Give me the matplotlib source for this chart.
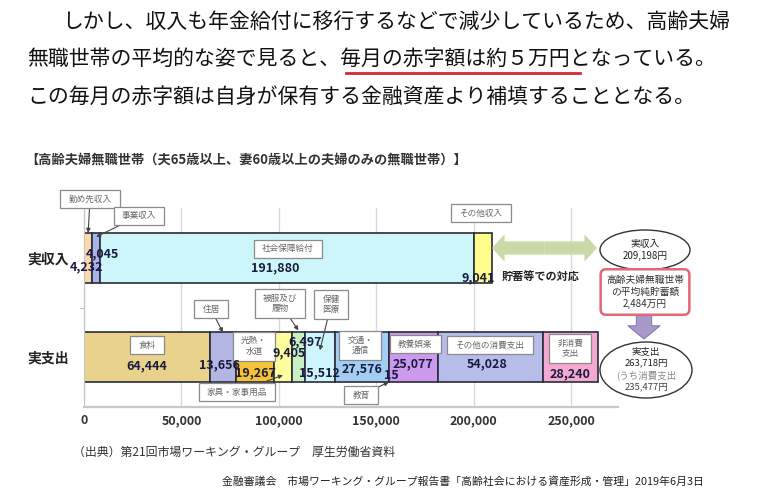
import numpy as np
import matplotlib.pyplot as plt
from matplotlib.patches import Ellipse, FancyArrowPatch

plt.rcParams['font.family'] = ['Noto Sans CJK JP', 'DejaVu Sans']

# ---- data ----
row_names = ['実支出', '実収入']

income_items = ['勤め先収入', '事業収入', '社会保障給付', 'その他収入']
income_values = [4232, 4045, 191880, 9041]
income_colors = ['#f9d9ac', '#aab2ea', '#cdf6fb', '#fdfd8c']

expense_items = ['食料', '住居', '光熱・\n水道', '家具・家事用品', '被服及び\n履物', '保健\n医療',
                 '交通・\n通信', '教育', '教養娯楽', 'その他の消費支出', '非消費\n支出']
expense_values = [64444, 13656, 19267, 9405, 6497, 15512, 27576, 15, 25077, 54028, 28240]
expense_colors = ['#e9d28c', '#b3b5e3', '#f7c336', '#fdfd9e', '#c9f0c4', '#cdf5fc',
                  '#a3cdf3', '#a3cdf3', '#cc9aec', '#b6bde9', '#f4a9d0']

x_ticks = [0, 50000, 100000, 150000, 200000, 250000]

intro_lines = ['しかし、収入も年金給付に移行するなどで減少しているため、高齢夫婦',
               '無職世帯の平均的な姿で見ると、毎月の赤字額は約５万円となっている。',
               'この毎月の赤字額は自身が保有する金融資産より補填することとなる。']
chart_title = '【高齢夫婦無職世帯（夫65歳以上、妻60歳以上の夫婦のみの無職世帯）】'
source_note = '（出典）第21回市場ワーキング・グループ　厚生労働省資料'
report_note = '金融審議会　市場ワーキング・グループ報告書「高齢社会における資産形成・管理」2019年6月3日'

# ---- label placement (value label nudges and callout boxes) ----
income_nudge = [(-1000, -0.09), (3000, 0.04), (-6000, -0.10), (-2500, -0.20)]
expense_nudge = [(0, -0.09), (-2000, -0.08), (0, -0.16), (3000, 0.04), (3500, 0.15), (0, -0.16),
                 (0, -0.12), (1500, -0.18), (0, -0.07), (-1500, -0.07), (0, -0.17)]
# box centre (x, y) and arrow tip y (None = no arrow)
income_boxes = [(3100, 1.59, 1.25), (28200, 1.42, 1.21), (104700, 1.09, None), (203800, 1.45, None)]
expense_boxes = [(32300, 0.12, None), (65200, 0.48, 0.25), (87300, 0.11, None), (78500, -0.35, -0.18),
                 (100600, 0.54, 0.27), (126800, 0.53, 0.07), (141700, 0.12, None), (142200, -0.38, -0.25),
                 (170000, 0.13, None), (208400, 0.12, None), (249500, 0.09, None)]

fig = plt.figure(figsize=(7.6, 5), dpi=100)
ax = fig.add_axes([84 / 760, 1 - 407 / 500, (618 - 84) / 760, (407 - 208) / 500])

box_style = dict(boxstyle='square,pad=0.95', mutation_aspect=0.55, fc='white', ec='#8a8a8a', lw=0.9)
arrow_style = dict(arrowstyle='-|>', color='#444444', lw=0.8, mutation_scale=6, shrinkA=0, shrinkB=0)


def draw_row(y, values, colors, names, nudges, boxes):
    lefts = np.concatenate([[0], np.cumsum(values)[:-1]])
    ax.barh(y, values, left=lefts, height=0.5, color=colors, edgecolor='#2b2b3b', linewidth=1.2, zorder=2)
    for v, l, n, (dx, dy), (bx, by, tip) in zip(values, lefts, names, nudges, boxes):
        cx = l + v / 2
        ax.text(cx + dx, y + dy, f'{v:,}', ha='center', va='center', fontsize=9,
                fontweight='bold', color='#1b1b3f', zorder=5)
        if tip is None:
            ax.text(bx, by, n, ha='center', va='center', fontsize=6.2, color='#666666',
                    linespacing=1.25, bbox=box_style, zorder=4)
        else:
            ax.annotate(n, xy=(cx, tip), xytext=(bx, by), ha='center', va='center', fontsize=6.2,
                        color='#666666', linespacing=1.25, bbox=box_style,
                        arrowprops=arrow_style, zorder=4, annotation_clip=False)


draw_row(1, income_values, income_colors, income_items, income_nudge, income_boxes)
draw_row(0, expense_values, expense_colors, expense_items, expense_nudge, expense_boxes)

ax.set_xlim(0, 274000)
ax.set_ylim(-0.5, 1.5)
ax.set_xticks(x_ticks)
ax.set_xticklabels([f'{t:,}' for t in x_ticks], fontsize=9, fontweight='bold', color='#333333')
ax.set_yticks([0, 1])
ax.set_yticklabels(row_names, fontsize=10, fontweight='bold', color='#222222')
ax.set_yticks([0.5], minor=True)
ax.tick_params(axis='x', length=0, pad=5)
ax.tick_params(axis='y', which='major', length=0, pad=11)
ax.tick_params(axis='y', which='minor', length=3, color='#b0b0b0')
ax.grid(axis='x', color='#d9d9d9', lw=1)
ax.set_axisbelow(True)
for s in ['top', 'right']:
    ax.spines[s].set_visible(False)
ax.spines['left'].set_color('#c4c4c4')
ax.spines['bottom'].set_color('#c8c8c8')
ax.spines['bottom'].set_linewidth(1.6)

ax.text(214500, 0.80, '貯蓄等での対応', ha='left', va='center', fontsize=8, fontweight='bold', color='#222222')

# ---- side decorations (figure coords) ----
def fx(px):
    return px / 760


def fy(py):
    return 1 - py / 500


for x0, x1 in [(544.5, 492), (544.5, 597)]:
    fig.add_artist(FancyArrowPatch((fx(x0), fy(248)), (fx(x1), fy(248)), transform=fig.transFigure,
                                   arrowstyle='simple,head_width=1.95,head_length=0.9,tail_width=0.95',
                                   mutation_scale=10, shrinkA=0, shrinkB=0, fc='#cad9a7', ec='none'))

fig.add_artist(Ellipse((fx(645), fy(250)), 90 / 760, 40 / 500, transform=fig.transFigure,
                       fc='white', ec='#333333', lw=1))
fig.text(fx(645), fy(250), '実収入\n209,198円', ha='center', va='center', fontsize=7,
         color='#222222', linespacing=1.35)

fig.text(fx(645), fy(292), '高齢夫婦無職世帯\nの平均純貯蓄額\n2,484万円', ha='center', va='center',
         fontsize=7, color='#333333', linespacing=1.3,
         bbox=dict(boxstyle='round,pad=0.55', fc='white', ec='#e06878', lw=1.8))

fig.add_artist(FancyArrowPatch((fx(644), fy(314)), (fx(644), fy(339)), transform=fig.transFigure,
                               arrowstyle='simple,head_width=2.3,head_length=0.95,tail_width=1.1',
                               mutation_scale=10, shrinkA=0, shrinkB=0, fc='#a999cb', ec='#8b7bb2', lw=0.8))

fig.add_artist(Ellipse((fx(646), fy(370)), 92 / 760, 56 / 500, transform=fig.transFigure,
                       fc='white', ec='#333333', lw=1))
for py, t, c in [(352, '実支出', '#222222'), (363, '263,718円', '#222222'),
                 (375, '(うち消費支出', '#888888'), (387, '235,477円', '#444444')]:
    fig.text(fx(646), fy(py), t, ha='center', va='center', fontsize=6.8, color=c)

# ---- texts ----
for (px, py), line in zip([(62, 22), (27, 59), (27, 97)], intro_lines):
    fig.text(fx(px), fy(py), line, ha='left', va='center', fontsize=15, color='#111111')
fig.add_artist(plt.Line2D([fx(346), fx(580)], [fy(73), fy(73)], color='#d42a2a', lw=2,
                          transform=fig.transFigure))

fig.text(fx(25), fy(160), chart_title, ha='left', va='center', fontsize=9.5, fontweight='bold',
         color='#333333')
fig.text(fx(73), fy(452), source_note, ha='left', va='center', fontsize=8.6, color='#333333')
fig.text(fx(222), fy(481), report_note, ha='left', va='center', fontsize=7.8, color='#222222')

fig.savefig('out.png', dpi=100, facecolor='white')
